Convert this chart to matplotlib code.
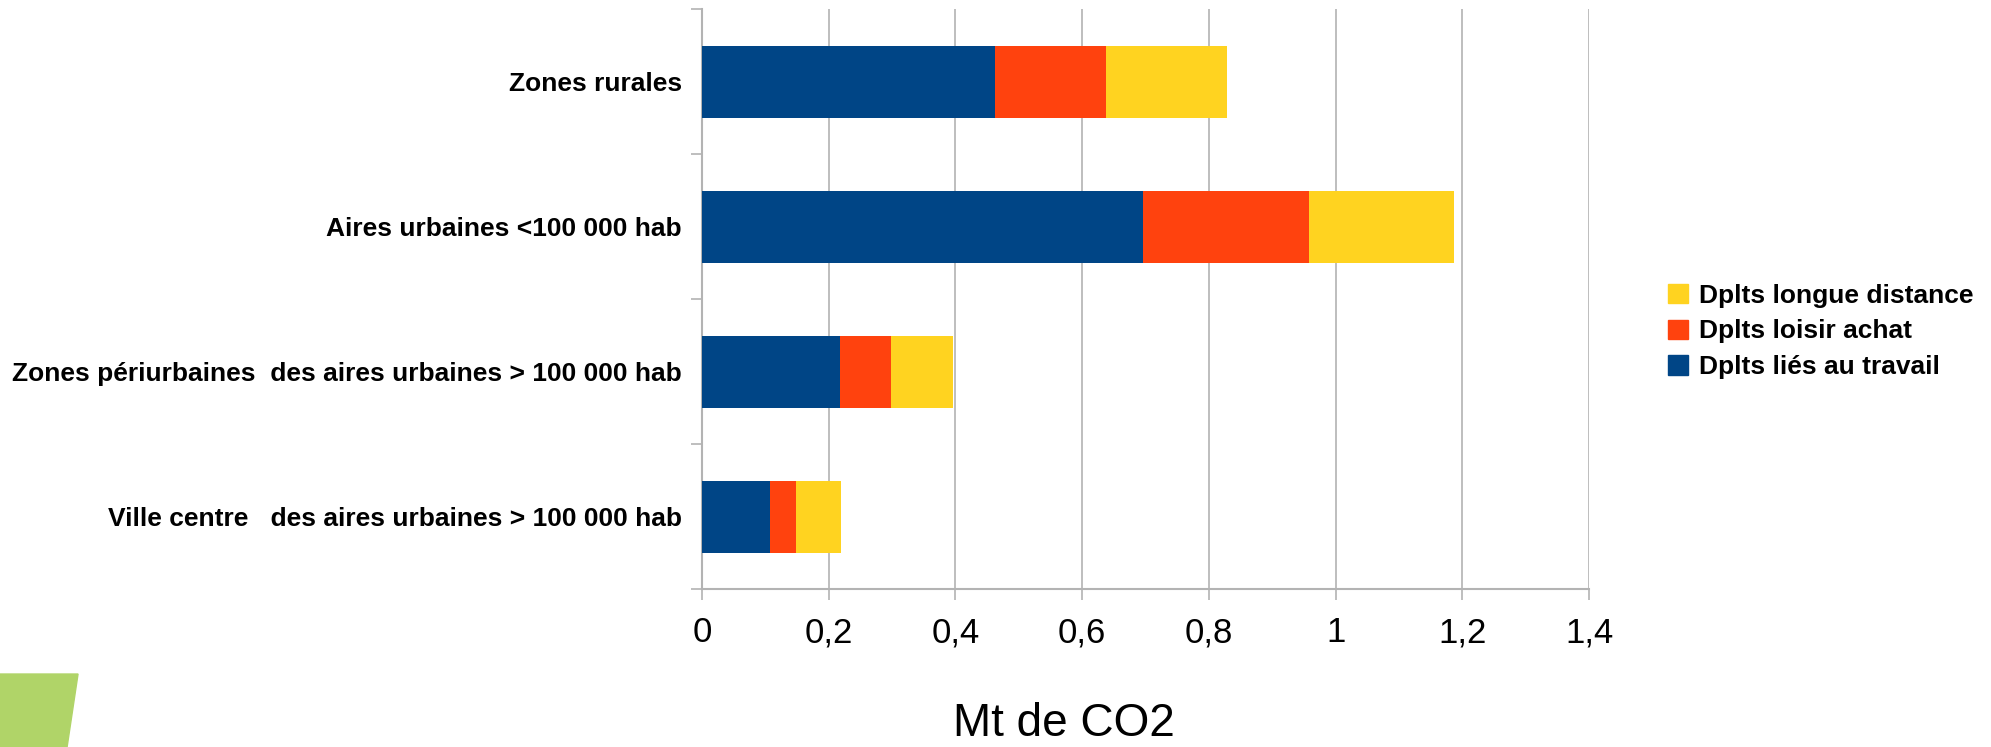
import matplotlib
matplotlib.use("Agg")
import matplotlib.pyplot as plt
from matplotlib.patches import Patch, Polygon

plt.rcParams['font.family'] = ['Liberation Sans', 'DejaVu Sans']

categories = [
    "Ville centre   des aires urbaines > 100 000 hab",
    "Zones périurbaines  des aires urbaines > 100 000 hab",
    "Aires urbaines <100 000 hab",
    "Zones rurales",
]
travail = [0.107, 0.218, 0.696, 0.462]
loisir = [0.041, 0.081, 0.262, 0.176]
longue = [0.072, 0.097, 0.229, 0.191]

series_names = ["Dplts liés au travail", "Dplts loisir achat", "Dplts longue distance"]
colors = ["#004586", "#ff420e", "#ffd320"]
xticks = [0, 0.2, 0.4, 0.6, 0.8, 1.0, 1.2, 1.4]
xtick_labels = ["0", "0,2", "0,4", "0,6", "0,8", "1", "1,2", "1,4"]

grey = "#b3b3b3"

fig = plt.figure(figsize=(19.91, 7.47), dpi=100)
ax = fig.add_axes([0.3526, 0.2111, 0.4455, 0.7765])

y = list(range(len(categories)))
left = [0] * len(categories)
for vals, name, c in zip([travail, loisir, longue], series_names, colors):
    ax.barh(y, vals, left=left, height=0.5, color=c, label=name, zorder=3)
    left = [a + b for a, b in zip(left, vals)]

ax.set_xlim(0, 1.4)
ax.set_ylim(-0.5, 3.5)
ax.set_xticks(xticks)
ax.set_xticklabels(xtick_labels, fontsize=25)
ax.set_yticks(y)
ax.set_yticklabels(categories, fontsize=19, fontweight='bold')
ax.set_yticks([-0.5, 0.5, 1.5, 2.5, 3.5], minor=True)

ax.tick_params(axis='y', which='major', length=0, pad=14.4)
ax.tick_params(axis='y', which='minor', length=7.9, width=1.2, color=grey)
ax.tick_params(axis='x', which='major', length=7.9, width=1.2, color=grey, pad=11.5)

ax.grid(axis='x', color=grey, linewidth=1.2, zorder=0)
for s in ['top', 'right']:
    ax.spines[s].set_visible(False)
for s in ['left', 'bottom']:
    ax.spines[s].set_color(grey)
    ax.spines[s].set_linewidth(1.5)

handles = [Patch(color=c) for c in colors][::-1]
fig.legend(handles, series_names[::-1], loc='upper left',
           bbox_to_anchor=(0.8378, 0.6200), frameon=False,
           prop={'size': 19, 'weight': 'bold'},
           handlelength=0.76, handleheight=0.76, handletextpad=0.42,
           labelspacing=0.44, borderpad=0, borderaxespad=0)

fig.text(0.5344, 0.002, "Mt de CO2", fontsize=33, ha='center', va='bottom')

fig.patches.append(Polygon([(0, 0.0977), (0.0392, 0.0977), (0.0337, 0), (0, 0)],
                           closed=True, color="#b0d468",
                           transform=fig.transFigure, figure=fig))

fig.savefig("out.png", dpi=100)
